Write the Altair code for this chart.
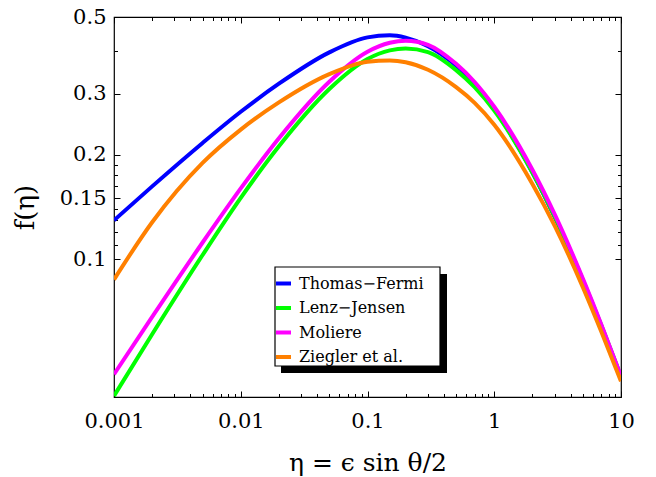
import altair as alt
import pandas as pd

# ---- data ----
eta = [0.001, 0.002, 0.005, 0.01, 0.02, 0.05, 0.1, 0.15, 0.2, 0.3, 0.5, 0.7, 1, 2, 3, 5, 7, 10]
f_thomas_fermi = [0.1294, 0.1622, 0.2165, 0.2663, 0.3209, 0.3952, 0.4366, 0.4427, 0.4359,
                  0.4120, 0.3620, 0.3205, 0.2715, 0.1778, 0.1321, 0.0865, 0.0639, 0.0457]
f_lenz_jensen = [0.0403, 0.0607, 0.1028, 0.1503, 0.2118, 0.3098, 0.3781, 0.4004, 0.4055,
                 0.3961, 0.3513, 0.3135, 0.2684, 0.1778, 0.1327, 0.0871, 0.0643, 0.0458]
f_moliere = [0.0465, 0.0681, 0.1117, 0.1600, 0.2234, 0.3252, 0.3968, 0.4212, 0.4271,
             0.4157, 0.3662, 0.3246, 0.2753, 0.1811, 0.1346, 0.0879, 0.0647, 0.0460]
f_ziegler = [0.0873, 0.1278, 0.1896, 0.2366, 0.2834, 0.3420, 0.3715, 0.3745, 0.3702,
             0.3520, 0.3137, 0.2825, 0.2443, 0.1648, 0.1248, 0.0830, 0.0617, 0.0444]

series = ["Thomas\u2212Fermi", "Lenz\u2212Jensen", "Moliere", "Ziegler et al."]
colors = ["#0000FF", "#00FF00", "#FF00FF", "#FF8000"]

x_major = [0.001, 0.01, 0.1, 1, 10]
x_minor = [k * 10.0 ** d for d in (-3, -2, -1, 0) for k in range(2, 10)]
y_major = [0.1, 0.15, 0.2, 0.3, 0.5]
y_minor = [0.11, 0.12, 0.13, 0.14, 0.1625, 0.175, 0.1875, 0.4]

rows = []
for name, vals in zip(series, [f_thomas_fermi, f_lenz_jensen, f_moliere, f_ziegler]):
    for x, y in zip(eta, vals):
        rows.append({"eta": x, "f": y, "model": name})
df = pd.DataFrame(rows)

W, H = 507, 380
FONT = "DejaVu Serif"
xs = alt.Scale(type="log", domain=[0.001, 10])
ys = alt.Scale(type="log", domain=[0.04, 0.5])


def tick_axis(orient, values, size):
    return alt.Axis(orient=orient, values=values, labels=False, ticks=True, tickSize=size,
                    offset=-size, domain=False, grid=False, title=None,
                    tickColor="black", tickWidth=1)


base = alt.Chart(df)

lines = base.mark_line(strokeWidth=4, interpolate="monotone", clip=True).encode(
    x=alt.X("eta:Q", scale=xs, axis=alt.Axis(
        orient="bottom", values=x_major, format="~g", ticks=False, tickSize=0, domain=False,
        grid=False, labelFont=FONT, labelFontSize=21, labelPadding=13, labelColor="black",
        labelFlush=False, labelOverlap=False,
        title="\u03b7 = \u03f5 sin \u03b8/2", titleFont=FONT, titleFontSize=25,
        titleFontWeight="normal", titleColor="black", titleX=W / 2, titleY=73,
        titleBaseline="alphabetic", titleAlign="center")),
    y=alt.Y("f:Q", scale=ys, axis=alt.Axis(
        orient="left", values=y_major, format="~g", ticks=False, tickSize=0, domain=False,
        grid=False, labelFont=FONT, labelFontSize=21, labelPadding=8, labelColor="black",
        labelFlush=False, labelOverlap=False,
        title="f(\u03b7)", titleFont=FONT, titleFontSize=26, titleFontWeight="normal",
        titleColor="black", titleX=-81, titleY=H / 2, titleAngle=270,
        titleBaseline="alphabetic", titleAlign="center")),
    color=alt.Color("model:N", sort=series, scale=alt.Scale(domain=series, range=colors),
                    legend=alt.Legend(orient="none", legendX=160, legendY=257, title=None,
                                      symbolType="stroke", symbolStrokeWidth=4, symbolSize=225,
                                      labelFont=FONT, labelFontSize=16, labelColor="black",
                                      labelOffset=6, rowPadding=6.5, padding=0)),
)


def tick_layer(xaxis, yaxis):
    return base.mark_point(opacity=0).encode(
        x=alt.X("eta:Q", scale=xs, axis=xaxis),
        y=alt.Y("f:Q", scale=ys, axis=yaxis),
    )


t_major = tick_layer(tick_axis("bottom", x_major, 6), tick_axis("left", y_major, 6))
t_minor = tick_layer(tick_axis("bottom", x_minor, 3.5), tick_axis("left", y_minor, 3.5))
t_major2 = tick_layer(tick_axis("top", x_major, 6), tick_axis("right", y_major, 6))
t_minor2 = tick_layer(tick_axis("top", x_minor, 3.5), tick_axis("right", y_minor, 3.5))

box_df = pd.DataFrame({"k": [0]})
shadow = alt.Chart(box_df).mark_rect(color="black").encode(
    x=alt.value(167), x2=alt.value(333), y=alt.value(257), y2=alt.value(356))
box = alt.Chart(box_df).mark_rect(fill="white", stroke="black", strokeWidth=1.2).encode(
    x=alt.value(161), x2=alt.value(326), y=alt.value(250), y2=alt.value(349))

chart = alt.layer(shadow, box, lines, t_major, t_minor, t_major2, t_minor2).resolve_axis(
    x="independent", y="independent"
).properties(
    width=W, height=H,
    padding={"left": 114, "top": 17, "right": 35, "bottom": 80},
    autosize=alt.AutoSizeParams(type="none"),
    background="white",
).configure_view(stroke="black", strokeWidth=1.2)

chart.save("out.html", embed_options={"renderer": "svg", "actions": False})
